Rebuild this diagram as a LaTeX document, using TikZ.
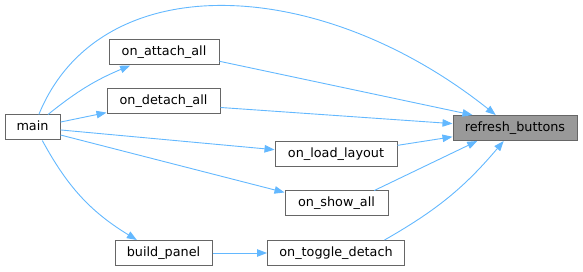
\documentclass[tikz,border=0pt]{standalone}
\usepackage{fontspec}
\setmainfont{DejaVu Sans}
\usetikzlibrary{arrows.meta}
\definecolor{edgeblue}{HTML}{63B8FF}
\definecolor{boxgray}{HTML}{666666}
\definecolor{hlgray}{HTML}{999999}

\begin{document}
\begin{tikzpicture}[
    x=1pt, y=-1pt,
    fn/.style={
        rectangle,
        draw=boxgray,
        fill=white,
        line width=1pt,
        minimum height=25pt,
        inner sep=0pt,
        text height=9.5pt,
        text depth=3pt,
        font=\fontsize{12.8}{15}\selectfont
    },
    call/.style={
        draw=edgeblue,
        line width=0.9pt,
        -{Triangle[length=10pt,width=7.5pt]}
    }
]
\useasboundingbox (0,0) rectangle (583,272);

% Functions of the caller graph
\foreach \n/\x/\y/\w/\t in {
    main/32.5/127.5/55/main,
    attach/164/52.5/110/on\_attach\_all,
    detach/163.5/101.5/113/on\_detach\_all,
    load/336/154/122/on\_load\_layout,
    show/336.5/203.5/103/on\_show\_all,
    build/163.5/253/97/build\_panel,
    toggle/336/253/137/on\_toggle\_detach
}{
    \node[fn, minimum width=\w pt] (\n) at (\x,\y) {\t};
}
\node[fn, fill=hlgray, minimum width=124pt] (refresh) at (515,128) {refresh\_buttons};

% Calls
\draw[call] (main.64) .. controls (100,-35) and (320,-25) .. (refresh.146);
\draw[call] (main.40) to[bend left=8] (attach.201);
\draw[call] (main.307) to[bend right=15] (build.154);
\foreach \a/\b in {
    main.11/detach.191,
    main.355/load.176,
    main.345/show.168,
    build.east/toggle.west,
    attach.351/refresh.163,
    detach.354/refresh.176,
    load.8/refresh.188,
    show.19/refresh.199
}{
    \draw[call] (\a) -- (\b);
}
\draw[call] (toggle.15) to[bend right=10] (refresh.229);
\end{tikzpicture}
\end{document}
